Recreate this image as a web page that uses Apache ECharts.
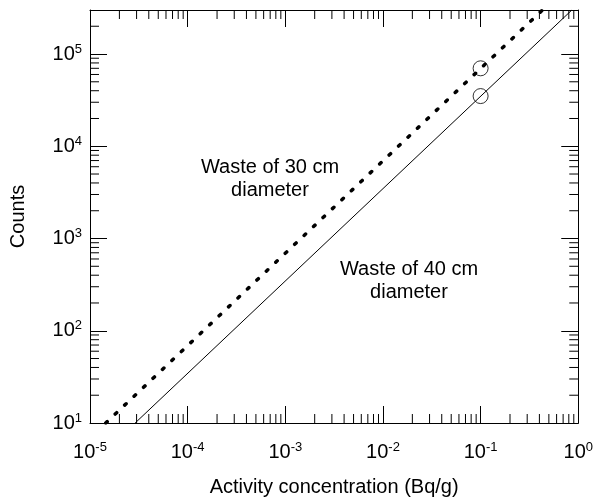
<!DOCTYPE html>
<html>
<head>
<meta charset="utf-8">
<script src="https://cdn.jsdelivr.net/npm/echarts@6/dist/echarts.min.js"></script>
<style>
  html, body { margin: 0; padding: 0; background: #fff; }
  #chart { width: 596px; height: 502px; }
</style>
</head>
<body>
<div id="chart"></div>
<script>
// 轴范围
const xRange = [1e-5, 1];
const yRange = [10, 3e5];

// 两条直线的端点
const line30X = [1.45e-5, 0.43];
const line30Y = [10, 3e5];
const line40X = [2.9e-5, 0.86];
const line40Y = [10, 3e5];

// 圆圈标记
const mark30 = [0.1, 70000];
const mark40 = [0.1, 35000];

// 次刻度
const minorMult = [2, 3, 4, 5, 6, 7, 8, 9];
const xDecades = [1e-5, 1e-4, 1e-3, 1e-2, 1e-1];
const yDecades = [10, 100, 1000, 1e4, 1e5];

const xMinor = [];
xDecades.forEach(function (d) {
	minorMult.forEach(function (m) { xMinor.push([d * m, yRange[0]]); });
});
const yMinor = [];
yDecades.forEach(function (d) {
	minorMult.forEach(function (m) {
		if (d * m < yRange[1]) yMinor.push([xRange[0], d * m]);
	});
});

const font = 'Liberation Sans, Arial, sans-serif';

function powLabel(v) {
	const e = Math.round(Math.log10(v));
	if (Math.abs(Math.log10(v) - e) > 1e-6) return '';
	return '{b|10}{s|' + e + '}';
}

const labelRich = {
	b: { fontSize: 20, fontFamily: font, color: '#000' },
	s: { fontSize: 13, fontFamily: font, color: '#000', padding: [0, 0, 10, 0] }
};

const myChart = echarts.init(document.getElementById('chart'));

const option = {
	animation: false,
	backgroundColor: '#fff',
	grid: { left: 88, right: 16, top: 10, bottom: 78 },
	xAxis: [
		{
			type: 'log',
			min: xRange[0],
			max: xRange[1],
			name: 'Activity concentration (Bq/g)',
			nameLocation: 'middle',
			nameGap: 54,
			nameTextStyle: { fontSize: 20, fontFamily: font, color: '#000' },
			axisLine: { lineStyle: { color: '#000', width: 1 } },
			axisTick: { inside: true, length: 17, lineStyle: { color: '#000' } },
			axisLabel: {
				margin: 18,
				formatter: powLabel,
				rich: labelRich
			},
			splitLine: { show: false }
		},
		{
			type: 'log',
			min: xRange[0],
			max: xRange[1],
			position: 'top',
			axisLine: { lineStyle: { color: '#000', width: 1 } },
			axisTick: { inside: true, length: 17, lineStyle: { color: '#000' } },
			axisLabel: { show: false },
			splitLine: { show: false }
		}
	],
	yAxis: [
		{
			type: 'log',
			min: yRange[0],
			max: yRange[1],
			name: 'Counts',
			nameLocation: 'middle',
			nameGap: 62,
			nameRotate: 90,
			nameTextStyle: { fontSize: 20, fontFamily: font, color: '#000' },
			axisLine: { lineStyle: { color: '#000', width: 1 } },
			axisTick: { inside: true, length: 17, lineStyle: { color: '#000' } },
			axisLabel: {
				margin: 8,
				formatter: powLabel,
				rich: labelRich
			},
			splitLine: { show: false }
		},
		{
			type: 'log',
			min: yRange[0],
			max: yRange[1],
			position: 'right',
			axisLine: { lineStyle: { color: '#000', width: 1 } },
			axisTick: { inside: true, length: 17, lineStyle: { color: '#000' } },
			axisLabel: { show: false },
			splitLine: { show: false }
		}
	],
	series: [
		{
			// 30 cm：点线
			type: 'line',
			data: line30X.map(function (x, i) { return [x, line30Y[i]]; }),
			showSymbol: false,
			lineStyle: { color: '#000', width: 3.5, type: [2, 11], cap: 'round' }
		},
		{
			// 40 cm：实线
			type: 'line',
			data: line40X.map(function (x, i) { return [x, line40Y[i]]; }),
			showSymbol: false,
			lineStyle: { color: '#000', width: 1 }
		},
		{
			type: 'scatter',
			data: [mark30, mark40],
			symbol: 'circle',
			symbolSize: 15,
			itemStyle: { color: 'rgba(0,0,0,0)', borderColor: '#000', borderWidth: 1 }
		},
		{
			// x 次刻度（上下）
			type: 'custom',
			silent: true,
			data: xMinor,
			renderItem: function (params, api) {
				const cs = params.coordSys;
				const x = api.coord([api.value(0), api.value(1)])[0];
				const st = { stroke: '#000', lineWidth: 1 };
				return {
					type: 'group',
					children: [
						{ type: 'line', shape: { x1: x, y1: cs.y + cs.height, x2: x, y2: cs.y + cs.height - 9 }, style: st },
						{ type: 'line', shape: { x1: x, y1: cs.y, x2: x, y2: cs.y + 9 }, style: st }
					]
				};
			}
		},
		{
			// y 次刻度（左右）
			type: 'custom',
			silent: true,
			data: yMinor,
			renderItem: function (params, api) {
				const cs = params.coordSys;
				const y = api.coord([api.value(0), api.value(1)])[1];
				const st = { stroke: '#000', lineWidth: 1 };
				return {
					type: 'group',
					children: [
						{ type: 'line', shape: { x1: cs.x, y1: y, x2: cs.x + 9, y2: y }, style: st },
						{ type: 'line', shape: { x1: cs.x + cs.width, y1: y, x2: cs.x + cs.width - 9, y2: y }, style: st }
					]
				};
			}
		}
	],
	graphic: [
		{
			type: 'text',
			x: 270, y: 179,
			style: {
				text: 'Waste of 30 cm\ndiameter',
				font: '20px ' + font,
				fill: '#000',
				align: 'center',
				verticalAlign: 'middle',
				lineHeight: 23
			}
		},
		{
			type: 'text',
			x: 409, y: 281,
			style: {
				text: 'Waste of 40 cm\ndiameter',
				font: '20px ' + font,
				fill: '#000',
				align: 'center',
				verticalAlign: 'middle',
				lineHeight: 23
			}
		}
	]
};

myChart.setOption(option);
</script>
</body>
</html>
